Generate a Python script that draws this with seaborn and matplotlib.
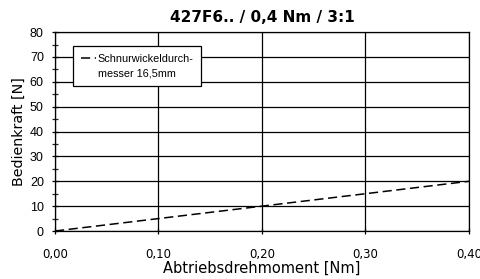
import matplotlib
matplotlib.use("Agg")
import matplotlib.pyplot as plt
import seaborn as sns
import pandas as pd
from matplotlib.lines import Line2D
from matplotlib.ticker import MultipleLocator, FuncFormatter

torque = [0.0, 0.1, 0.2, 0.3, 0.4]
force = [0, 5, 10, 15, 20]
series_label = "Schnurwickeldurch-\nmesser 16,5mm"
title = "427F6.. / 0,4 Nm / 3:1"
xlabel = "Abtriebsdrehmoment [Nm]"
ylabel = "Bedienkraft [N]"

sns.set_style("white")
plt.rcParams['font.family'] = ['Liberation Sans', 'DejaVu Sans']
plt.rcParams['text.color'] = 'black'
plt.rcParams['axes.labelcolor'] = 'black'

df = pd.DataFrame({"x": torque, "y": force})

fig = plt.figure(figsize=(4.81, 2.79), dpi=100)
ax = fig.add_axes([0.1143, 0.172, 0.8607, 0.713])

sns.lineplot(data=df, x="x", y="y", ax=ax, color="black", linewidth=1.1,
             linestyle=(0, (6, 3)), label=series_label)

ax.set_xlim(0, 0.4)
ax.set_ylim(0, 80)
ax.xaxis.set_major_locator(MultipleLocator(0.1))
ax.yaxis.set_major_locator(MultipleLocator(10))
ax.yaxis.set_minor_locator(MultipleLocator(5))
ax.xaxis.set_major_formatter(FuncFormatter(lambda v, p: f"{v:.2f}".replace(".", ",")))
ax.grid(True, which="major", color="black", linewidth=0.9)
for s in ax.spines.values():
    s.set_color("black")
    s.set_linewidth(0.9)
ax.tick_params(axis="both", which="major", colors="black", length=4, width=0.9,
               direction="inout", left=True, bottom=True)
ax.tick_params(axis="y", which="major", labelsize=9, pad=6)
ax.tick_params(axis="x", which="major", labelsize=8.5, pad=10, labelfontfamily="DejaVu Sans")
ax.tick_params(axis="y", which="minor", length=4, width=0.9, left=True, direction="inout")

ax.set_title(title, fontsize=11, fontweight="bold", pad=7, fontfamily="DejaVu Sans", color="black")
ax.set_xlabel(xlabel, fontsize=10.5, labelpad=0, fontfamily="DejaVu Sans")
ax.set_ylabel(ylabel, fontsize=10.3, labelpad=3, fontfamily="DejaVu Sans")

handles, _ = ax.get_legend_handles_labels()
label_lines = series_label.split("\n")
blank = Line2D([], [], color="none")
leg = ax.legend(handles=[handles[0], blank], labels=label_lines,
                loc="upper left", bbox_to_anchor=(0.0435, 0.930), fontsize=7.8,
                frameon=True, fancybox=False, handlelength=1.4, borderpad=0.7,
                labelspacing=0.45, handletextpad=0.2, framealpha=1, borderaxespad=0)
leg.get_frame().set_edgecolor("black")
leg.get_frame().set_linewidth(0.9)

fig.savefig("out.png", dpi=100)
